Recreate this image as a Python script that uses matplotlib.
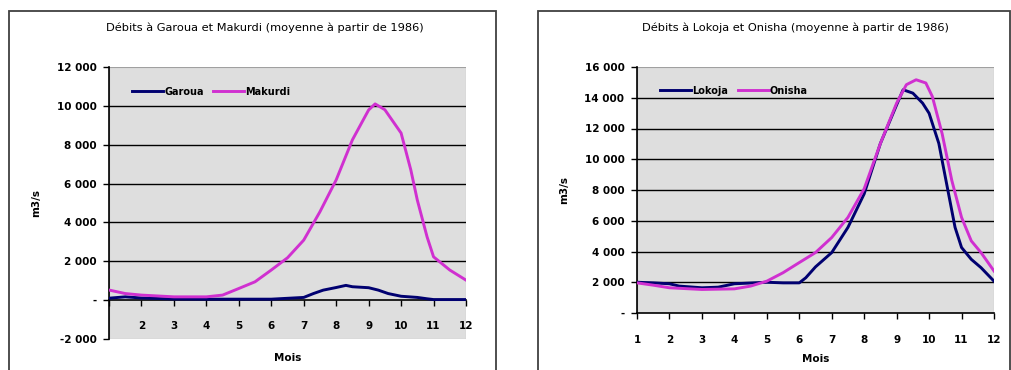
import matplotlib.pyplot as plt
from matplotlib.patches import Rectangle
from matplotlib.ticker import FuncFormatter

# mean daily discharge (m3/s), month position on x
mois_garoua = [1, 1.5, 2, 3, 4, 5, 6, 7, 7.3, 7.6, 8, 8.3, 8.5, 9, 9.3, 9.6, 10, 10.5, 10.8, 11, 12]
garoua = [100, 170, 110, 60, 50, 50, 50, 140, 340, 515, 650, 760, 690, 640, 515, 340, 200, 140, 70, 30, 30]

mois_makurdi = [1, 1.5, 2, 3, 4, 4.5, 5, 5.5, 6, 6.5, 7, 7.5, 8, 8.5, 9, 9.2, 9.5, 10, 10.3, 10.5,
                10.8, 11, 11.5, 12]
makurdi = [520, 340, 260, 170, 170, 260, 600, 945, 1550, 2180, 3090, 4550, 6190, 8250, 9790, 10100,
           9800, 8600, 6700, 5150, 3260, 2230, 1550, 1030]

mois_lokoja = [1, 1.5, 2, 2.3, 3, 3.5, 4, 5, 5.5, 6, 6.2, 6.5, 7, 7.5, 8, 8.5, 9, 9.2, 9.5, 9.8, 10,
               10.3, 10.6, 10.8, 11, 11.3, 11.6, 12]
lokoja = [2000, 1960, 1900, 1750, 1640, 1680, 1900, 2000, 1960, 1960, 2290, 3000, 3930, 5570, 7750,
          11030, 13540, 14520, 14300, 13650, 12990, 11030, 7750, 5570, 4260, 3490, 2950, 2070]

mois_onisha = [1, 1.5, 2, 3, 4, 4.5, 5, 5.5, 6, 6.5, 7, 7.5, 8, 8.5, 9, 9.3, 9.6, 9.9, 10.1, 10.4,
               10.7, 11, 11.3, 11.6, 12]
onisha = [1960, 1810, 1640, 1530, 1570, 1750, 2070, 2620, 3280, 3930, 4910, 6220, 8080, 11030, 13650,
          14850, 15170, 14960, 14080, 11680, 8620, 6220, 4690, 3930, 2730]

BLEU = '#000070'
MAGENTA = '#d030d0'
FOND = '#dedede'
TAILLE = 7.5

plt.rcParams['font.family'] = ['DejaVu Sans']


def milliers(v, pos):
    if v == 0:
        return '-'
    s = f'{abs(int(v)):,}'.replace(',', ' ')
    return ('-' if v < 0 else '') + s


def mise_en_forme(ax, ymin, ymax, titre, xcadre):
    ax.set_facecolor(FOND)
    ax.set_xlim(1, 12)
    ax.set_ylim(ymin, ymax)
    ax.set_yticks(range(ymin, ymax + 1, 2000))
    ax.yaxis.set_major_formatter(FuncFormatter(milliers))
    for v in range(ymin, ymax + 1, 2000):
        if v not in (ymin, ymax, 0):
            ax.axhline(v, color='black', lw=1.0, zorder=1)
    for s in ('top', 'right', 'bottom'):
        ax.spines[s].set_visible(False)
    # plot area border
    ax.add_patch(Rectangle((0, 0), 1, 1, transform=ax.transAxes, fill=False,
                           edgecolor='#a0a0a0', lw=0.8, zorder=0.5))
    ax.spines['left'].set_color('black')
    ax.spines['left'].set_linewidth(1.2)
    ax.tick_params(axis='y', length=4, width=1.0, labelsize=TAILLE, pad=5)
    for t in ax.get_yticklabels():
        t.set_fontweight('bold')
    ax.set_ylabel('m3/s', fontsize=TAILLE, fontweight='bold', labelpad=11)
    ax.text(xcadre, 0.925, titre, transform=fig.transFigure, ha='center', va='center', fontsize=8.2)
    ax.legend(loc='upper left', bbox_to_anchor=(0.04, 0.96), ncol=2, frameon=False,
              handlelength=3.2, handletextpad=0.1, columnspacing=1.0,
              prop={'size': 7, 'weight': 'bold'})
    ax.spines['bottom'].set_visible(True)
    ax.spines['bottom'].set_color('black')
    ax.spines['bottom'].set_linewidth(1.2)
    ax.spines['bottom'].set_position(('data', 0))
    ax.set_xticks(range(1, 13))


fig = plt.figure(figsize=(10.12, 3.70), dpi=100)

# chart frames
fig.patches.append(Rectangle((9 / 1012, -0.05), (496 - 9) / 1012, 1.05 - 11 / 370,
                             transform=fig.transFigure, fill=False, edgecolor='#404040', lw=1.3))
fig.patches.append(Rectangle((538 / 1012, -0.05), (1010 - 538) / 1012, 1.05 - 11 / 370,
                             transform=fig.transFigure, fill=False, edgecolor='#404040', lw=1.3))

# Garoua / Makurdi
ax1 = fig.add_axes([109 / 1012, 31 / 370, 357 / 1012, 272 / 370])
ax1.plot(mois_garoua, garoua, color=BLEU, lw=2.1, label='Garoua', zorder=3)
ax1.plot(mois_makurdi, makurdi, color=MAGENTA, lw=2.1, label='Makurdi', zorder=3)
mise_en_forme(ax1, -2000, 12000, 'Débits à Garoua et Makurdi (moyenne à partir de 1986)', 265 / 1012)
ax1.tick_params(axis='x', length=4, width=1.0, labelsize=TAILLE, pad=11)
ax1.set_xticklabels([''] + [str(m) for m in range(2, 13)], fontweight='bold')
ax1.set_xlabel('Mois', fontsize=TAILLE, fontweight='bold')
ax1.xaxis.set_label_coords(0.5, -0.05)

# Lokoja / Onisha
ax2 = fig.add_axes([637 / 1012, 57 / 370, 357 / 1012, 246 / 370])
ax2.plot(mois_lokoja, lokoja, color=BLEU, lw=2.1, label='Lokoja', zorder=3)
ax2.plot(mois_onisha, onisha, color=MAGENTA, lw=2.1, label='Onisha', zorder=3)
mise_en_forme(ax2, 0, 16000, 'Débits à Lokoja et Onisha (moyenne à partir de 1986)', 795 / 1012)
ax2.tick_params(axis='x', length=4, width=1.0, labelsize=TAILLE, pad=12)
ax2.set_xticklabels([str(m) for m in range(1, 13)], fontweight='bold')
ax2.set_xlabel('Mois', fontsize=TAILLE, fontweight='bold')
ax2.xaxis.set_label_coords(0.5, -0.165)

fig.savefig('out.png', dpi=100)
